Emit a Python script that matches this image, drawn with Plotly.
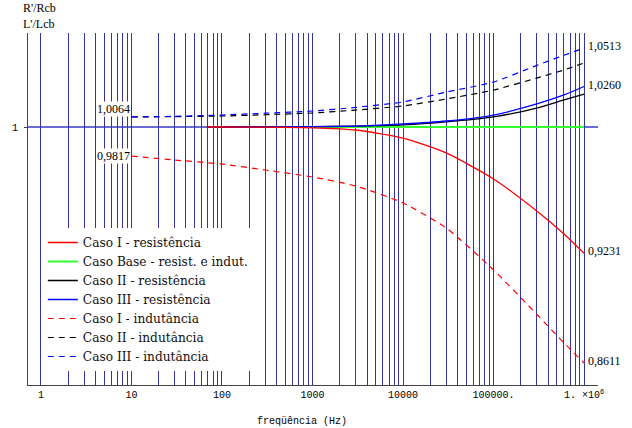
import plotly.graph_objects as go
import math

# ---------------- data ----------------
freq_L = [10, 30, 100, 300, 1000, 3000, 10000, 30000, 100000, 300000, 600000, 1000000]
freq_R = [68, 100, 300, 1000, 3000, 10000, 30000, 100000, 300000, 600000, 1000000]

caso1_R = [1.0, 1.0, 0.9999, 0.9995, 0.9981, 0.9930, 0.9837, 0.9676, 0.9482, 0.9345, 0.9231]
base_RL = [1.0, 1.0, 1.0, 1.0, 1.0, 1.0, 1.0, 1.0, 1.0, 1.0, 1.0]
caso2_R = [1.0, 1.0, 1.0, 1.0002, 1.0005, 1.0013, 1.0032, 1.0064, 1.0121, 1.0173, 1.0211]
caso3_R = [1.0, 1.0, 1.0, 1.0002, 1.0006, 1.0019, 1.0038, 1.0076, 1.0147, 1.0205, 1.0260]

caso1_L = [0.9817, 0.9793, 0.9768, 0.9731, 0.9688, 0.9633, 0.9530, 0.9380, 0.9134, 0.8881, 0.8721, 0.8611]
caso2_L = [1.0064, 1.0066, 1.0070, 1.0078, 1.0089, 1.0108, 1.0134, 1.0179, 1.0237, 1.0315, 1.0368, 1.0414]
caso3_L = [1.0064, 1.0068, 1.0076, 1.0088, 1.0102, 1.0125, 1.0160, 1.0224, 1.0289, 1.0398, 1.0465, 1.0513]

decades = [1, 10, 100, 1000, 10000, 100000, 1000000]
decade_labels = ["1", "10", "100", "1000", "10000", "100000.", "1. \u00d710<sup>6</sup>"]

end_labels = [(1.0513, "1,0513"), (1.0260, "1,0260"), (0.9231, "0,9231"), (0.8611, "0,8611")]
start_labels = [(1.0064, "1,0064"), (0.9817, "0,9817")]

# ---------------- figure ----------------
serif = "Liberation Serif"
legend_font = "DejaVu Serif"
mono = "Liberation Mono"
fig = go.Figure()

# drawing order: base first, then black/blue resistance, red on top of the flat part
series = [
    ("Caso Base - resist. e indut.", freq_R, base_RL, "#33ff33", "solid", 2.0, 2),
    ("Caso II - resistência", freq_R, caso2_R, "#000000", "solid", 1.3, 3),
    ("Caso III - resistência", freq_R, caso3_R, "#0000ff", "solid", 1.3, 4),
    ("Caso I - resistência", freq_R, caso1_R, "#ff0000", "solid", 1.3, 1),
    ("Caso I - indutância", freq_L, caso1_L, "#ff0000", "6px,5px", 1.2, 5),
    ("Caso II - indutância", freq_L, caso2_L, "#000000", "6px,5px", 1.2, 6),
    ("Caso III - indutância", freq_L, caso3_L, "#0000ff", "6px,5px", 1.2, 7),
]
for name, xs, ys, col, dash, w, rank in series:
    fig.add_trace(go.Scatter(x=xs, y=ys, mode="lines", name=name, legendrank=rank,
                             line=dict(color=col, dash=dash, width=w, shape="spline", smoothing=0.6)))

# reference line at 1
fig.add_shape(type="line", xref="x domain", x0=0, x1=1, yref="y", y0=1, y1=1,
              line=dict(color="#6a6ad6", width=2), layer="below")

tickvals = [d * 10 ** k for k in range(6) for d in range(1, 10)] + [10 ** 6]
ticktext = [decade_labels[decades.index(v)] if v in decades else "" for v in tickvals]

fig.update_xaxes(type="log", range=[-0.143, 6.154], tickvals=tickvals, ticktext=ticktext,
                 showgrid=True, gridcolor="#3434a0", gridwidth=1, ticks="",
                 showline=True, linecolor="#444444", linewidth=1,
                 tickfont=dict(family=mono, size=10, color="#000000"))
fig.update_yaxes(type="log", range=[-0.071007, 0.025871], tickvals=[1], ticktext=["1"],
                 showgrid=False, ticks="outside", ticklen=3, tickcolor="#444444",
                 ticklabelstandoff=4,
                 showline=True, linecolor="#444444", linewidth=1,
                 tickfont=dict(family=mono, size=10, color="#000000"))

ann = []
for v, t in end_labels:
    ann.append(dict(x=math.log10(freq_L[-1]), y=math.log10(v), xref="x", yref="y", text=t,
                    showarrow=False, xanchor="left", yanchor="middle", xshift=2, yshift=2,
                    font=dict(family=serif, size=12, color="#000000")))
for v, t in start_labels:
    ann.append(dict(x=math.log10(freq_L[0]), y=math.log10(v), xref="x", yref="y", text=t,
                    showarrow=False, xanchor="right", yanchor="middle", xshift=0,
                    yshift=8 if v > 1 else 0, bgcolor="#ffffff", borderpad=0,
                    font=dict(family=serif, size=12, color="#000000")))
ann.append(dict(x=0.48, y=-0.1025, xref="paper", yref="paper", text="freqüência (Hz)",
                showarrow=False, xanchor="center", yanchor="middle",
                font=dict(family=mono, size=10, color="#000000")))
ann.append(dict(x=-0.012, y=1.0, xref="paper", yref="paper", text="R'/Rcb<br>L'/Lcb",
                showarrow=False, xanchor="left", yanchor="bottom", align="left",
                font=dict(family=serif, size=12, color="#000000")))

fig.update_layout(
    width=632, height=428,
    margin=dict(l=25, r=34, t=33, b=43),
    paper_bgcolor="#ffffff", plot_bgcolor="#ffffff",
    annotations=ann,
    showlegend=True,
    legend=dict(x=0.026, y=0.446, xanchor="left", yanchor="top", bgcolor="#ffffff",
                borderwidth=0, itemwidth=30, tracegroupgap=0,
                font=dict(family=legend_font, size=12.2, color="#111111")),
)

fig.write_html("out.html")
